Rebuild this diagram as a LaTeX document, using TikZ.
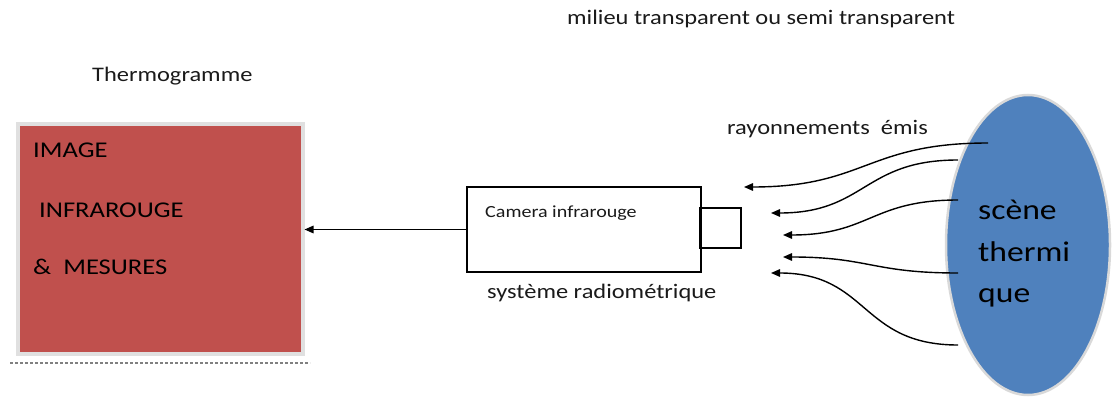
\documentclass[tikz,border=0pt]{standalone}
\usepackage{fontspec}
\setmainfont{Carlito}[FakeStretch=1.18]
\usetikzlibrary{arrows.meta,shapes.geometric}
\definecolor{boxred}{HTML}{C0504D}
\definecolor{sceneblue}{HTML}{4F81BD}
\definecolor{txt}{HTML}{1A1A1A}
\tikzset{
  lbl/.style={anchor=base west,inner sep=0,text=txt,font=\fontsize{20.7}{24}\selectfont},
  redlbl/.style={anchor=base west,inner sep=0,text=black,font=\fontsize{22.5}{26}\selectfont},
  scenelbl/.style={anchor=base west,inner sep=0,text=black,font=\fontsize{28.5}{32}\selectfont},
  camlbl/.style={anchor=base west,inner sep=0,text=txt,font=\fontsize{17}{20}\selectfont},
  ray/.style={line width=1.4pt,-{Triangle[length=9pt,width=7.5pt]}},
  boxline/.style={draw=black,line width=2.2pt}
}
\begin{document}
\begin{tikzpicture}[x=1pt,y=-1pt]
\useasboundingbox (0,0) rectangle (1113,414);
% thermogram box
\node[draw=black!12,line width=4pt,fill=boxred,minimum width=285pt,minimum height=229pt,inner sep=0] (thermo) at (160,239) {};
\draw[black!50,densely dashed,line width=1.4pt] (10,363) -- (310,363);
\node[redlbl] (t1) at (33,158) {IMAGE};
\node[redlbl] (t2) at (39,217) {INFRAROUGE};
\node[redlbl] (t3) at (33,274) {\&\ \ MESURES};
\node[lbl] (thermolbl) at (92,82) {Thermogramme};
\node[lbl] (milieu) at (567,25) {milieu transparent ou semi transparent};
% camera
\node[boxline,minimum width=234pt,minimum height=85pt,inner sep=0] (cam) at (584,229.5) {};
\node[boxline,minimum width=41pt,minimum height=40pt,inner sep=0] (lens) at (720.5,228) {};
\node[camlbl] (camlabel) at (485,218) {Camera infrarouge};
\node[lbl] (sysradio) at (487,298) {système radiométrique};
\draw[line width=1.4pt,-{Triangle[length=9pt,width=7.5pt]}] (cam.west) -- (cam.west -| thermo.east);
% scene
\node[ellipse,draw=black!15,line width=2.5pt,fill=sceneblue,minimum width=164pt,minimum height=300pt,inner sep=0] (scene) at (1028,245) {};
\node[scenelbl] (s1l) at (978,219) {scène};
\node[scenelbl] (s2l) at (978,261) {thermi};
\node[scenelbl] (s3l) at (978,302) {que};
\node[lbl] (rayon) at (727,135) {rayonnements\ \ émis};
% rays
\coordinate (s1) at (988,143); \coordinate (e1) at (744,187);
\coordinate (s2) at (958,160); \coordinate (e2) at (771,213);
\coordinate (s3) at (958,200); \coordinate (e3) at (783,235);
\coordinate (s4) at (958,273); \coordinate (e4) at (783,257);
\coordinate (s5) at (958,345); \coordinate (e5) at (771,273);
\foreach \i in {1,...,5}{
  \draw[ray] (s\i) to[out=180,in=0,looseness=1.25] (e\i);
}
\end{tikzpicture}
\end{document}
